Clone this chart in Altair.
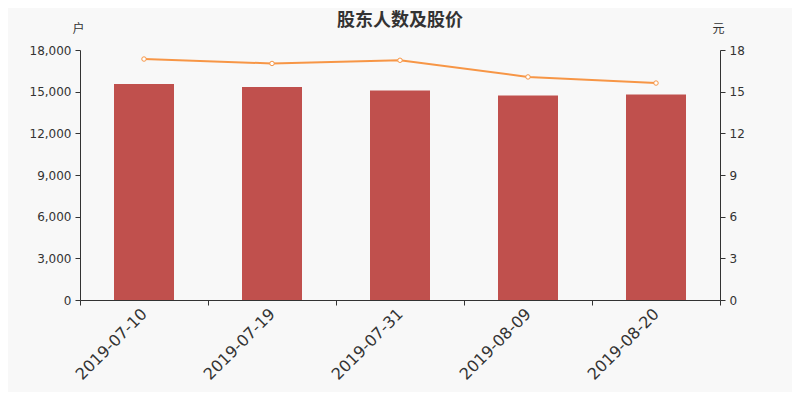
import altair as alt
import pandas as pd

dates = ["2019-07-10", "2019-07-19", "2019-07-31", "2019-08-09", "2019-08-20"]
holders = [15560, 15330, 15080, 14730, 14800]
prices = [17.35, 17.03, 17.26, 16.06, 15.62]

df = pd.DataFrame({"date": dates, "holders": holders, "price": prices})

FONT = "DejaVu Sans"
CJK = "Noto Sans CJK SC"
TXT = "#333333"

x = alt.X("date:N", sort=dates, title=None,
          scale=alt.Scale(paddingInner=0, paddingOuter=0),
          axis=alt.Axis(labelAngle=-45, labelAlign="right", labelBaseline="middle",
                        labelFontSize=16, labelPadding=6, tickBand="extent",
                        tickSize=5, labelFont=FONT, labelColor=TXT,
                        domainColor=TXT, tickColor=TXT, grid=False))

bars = alt.Chart(df).mark_bar(size=60, color="#c0504d").encode(
    x=x,
    y=alt.Y("holders:Q",
            scale=alt.Scale(domain=[0, 18000], nice=False),
            axis=alt.Axis(title="户", titleAngle=0, titleX=-2, titleY=-22,
                          titleAlign="center", titleBaseline="middle",
                          titleFont=CJK, titleFontSize=12, titleFontWeight="normal",
                          titleColor=TXT,
                          values=[0, 3000, 6000, 9000, 12000, 15000, 18000],
                          format=",.0f", labelFontSize=12, labelFont=FONT,
                          labelColor=TXT, tickSize=5, labelPadding=4,
                          domainColor=TXT, tickColor=TXT, grid=False)),
)

yr = alt.Y("price:Q",
           scale=alt.Scale(domain=[0, 18], nice=False),
           axis=alt.Axis(title="元", orient="right", titleAngle=0, titleX=-2, titleY=-22,
                         titleAlign="center", titleBaseline="middle",
                         titleFont=CJK, titleFontSize=12, titleFontWeight="normal",
                         titleColor=TXT,
                         values=[0, 3, 6, 9, 12, 15, 18], format="d",
                         labelFontSize=12, labelFont=FONT,
                         labelColor=TXT, tickSize=5, labelPadding=4,
                         domainColor=TXT, tickColor=TXT, grid=False))

line = alt.Chart(df).mark_line(color="#f79646", strokeWidth=2).encode(x=x, y=yr)
pts = alt.Chart(df).mark_point(filled=True, fill="#ffffff", stroke="#f79646",
                               strokeWidth=1, size=20, opacity=1).encode(x=x, y=yr)

chart = alt.layer(bars, line + pts).resolve_scale(y="independent").properties(
    width=640, height=250,
    autosize="none",
    padding={"left": 72, "top": 42, "right": 72, "bottom": 92},
    background="#f8f8f8",
    title=alt.TitleParams(text="股东人数及股价", font=CJK, fontSize=18,
                          fontWeight="bold", color=TXT, anchor="middle", offset=-8),
).configure_view(stroke=None)

chart.save("out.html", embed_options={"renderer": "svg", "actions": False})
